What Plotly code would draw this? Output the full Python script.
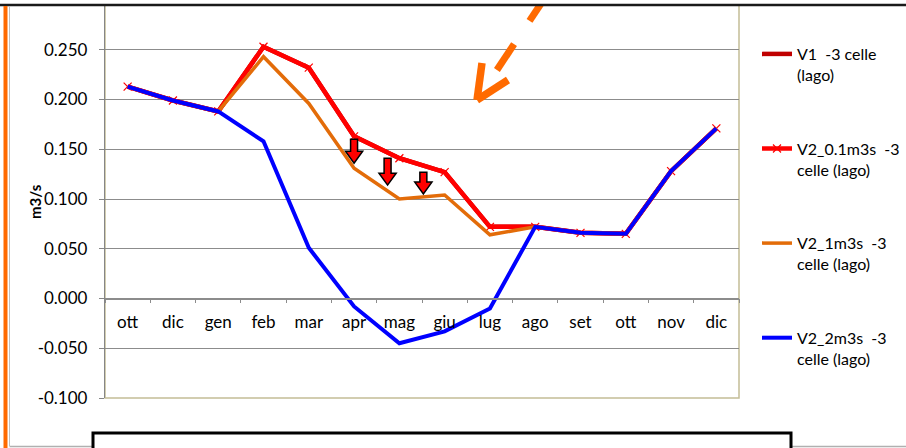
import plotly.graph_objects as go

# Months of the hydrological year (Oct -> Dec of the following year)
months = ["ott", "dic", "gen", "feb", "mar", "apr", "mag", "giu",
          "lug", "ago", "set", "ott", "nov", "dic"]

# Flow rates (m3/s) for each scenario
v1_3celle = [0.213, 0.199, 0.188, 0.253, 0.232, 0.163, 0.141, 0.127,
             0.072, 0.072, 0.066, 0.065, 0.128, 0.171]
v2_01_3celle = [0.213, 0.199, 0.188, 0.253, 0.232, 0.163, 0.141, 0.127,
                0.072, 0.072, 0.066, 0.065, 0.128, 0.171]
v2_1_3celle = [0.213, 0.199, 0.188, 0.243, 0.196, 0.131, 0.100, 0.104,
               0.064, 0.072, 0.066, 0.065, 0.128, 0.171]
v2_2_3celle = [0.213, 0.199, 0.188, 0.158, 0.051, -0.008, -0.045, -0.033,
               -0.010, 0.072, 0.066, 0.065, 0.128, 0.171]

# y-axis ticks and their labels (plain hyphen for negatives)
y_ticks = [-0.100, -0.050, 0.000, 0.050, 0.100, 0.150, 0.200, 0.250, 0.300]
y_tick_text = ["-0.100", "-0.050", "0.000", "0.050", "0.100", "0.150",
               "0.200", "0.250", "0.300"]

FONT = "Lato"
FS = 17
W, H = 906, 448
L, R, T, B = 105, 167, 0, 50
PW, PH = W - L - R, H - T - B


def px(x):
    """pixel column -> paper fraction"""
    return (x - L) / PW


def py(y):
    """pixel row -> paper fraction"""
    return (H - B - y) / PH


x = list(range(len(months)))

fig = go.Figure()
fig.add_trace(go.Scatter(x=x, y=v1_3celle, mode="lines", name="V1  -3 celle<br>(lago)",
                         line=dict(color="#C00000", width=4.5)))
fig.add_trace(go.Scatter(x=x, y=v2_01_3celle, mode="lines+markers",
                         name="V2_0.1m3s  -3<br>celle (lago)",
                         line=dict(color="#FF0000", width=4.5),
                         marker=dict(symbol="x-thin", size=8,
                                     line=dict(color="#FF0000", width=1.2))))
fig.add_trace(go.Scatter(x=x, y=v2_1_3celle, mode="lines", name="V2_1m3s  -3<br>celle (lago)",
                         line=dict(color="#E36C09", width=3.5)))
fig.add_trace(go.Scatter(x=x, y=v2_2_3celle, mode="lines", name="V2_2m3s  -3<br>celle (lago)",
                         line=dict(color="#0000FF", width=4)))

# each trace in its own group so the group gap spaces the entries
for i, tr in enumerate(fig.data):
    tr.legendgroup = f"g{i}"

shapes = []

# plot-area border
shapes.append(dict(type="rect", xref="paper", yref="paper", x0=0, x1=1, y0=0, y1=1,
                   line=dict(color="#C4BD97", width=1.5), layer="below"))

# red block arrows: (x category position, top value, tip value)
drops = [(5.00, 0.160, 0.136), (5.74, 0.141, 0.114), (6.53, 0.127, 0.105)]
sw, hw, hl = 0.077, 0.19, 0.012
for cx, top, tip in drops:
    neck = tip + hl
    path = (f"M {cx - sw},{top} L {cx + sw},{top} L {cx + sw},{neck} "
            f"L {cx + hw},{neck} L {cx},{tip} L {cx - hw},{neck} "
            f"L {cx - sw},{neck} Z")
    shapes.append(dict(type="path", xref="x", yref="y", path=path,
                       fillcolor="#FF0000", line=dict(color="black", width=1.5),
                       layer="above"))

# orange dashed pointer arrow
ORANGE = "#FF6A00"
tipx, tipy = 477, 100
dx, dy = 0.553, -0.833
for t0, t1 in [(36, 67), (95, 130)]:
    shapes.append(dict(type="line", xref="paper", yref="paper",
                       x0=px(tipx + dx * t0), y0=py(tipy + dy * t0),
                       x1=px(tipx + dx * t1), y1=py(tipy + dy * t1),
                       line=dict(color=ORANGE, width=7)))
for ax, ay in [(482, 63), (508, 80)]:
    shapes.append(dict(type="line", xref="paper", yref="paper",
                       x0=px(tipx), y0=py(tipy), x1=px(ax), y1=py(ay),
                       line=dict(color=ORANGE, width=7.5)))

# page frame elements
shapes.append(dict(type="rect", xref="paper", yref="paper",
                   x0=px(-5), x1=px(W + 5), y0=py(4), y1=py(-5),
                   fillcolor="white", line=dict(width=0)))
shapes.append(dict(type="line", xref="paper", yref="paper",
                   x0=px(0), x1=px(W), y0=py(5), y1=py(5),
                   line=dict(color="#1a1a1a", width=2.5)))
shapes.append(dict(type="line", xref="paper", yref="paper",
                   x0=px(5.5), x1=px(5.5), y0=py(6), y1=py(H + 2),
                   line=dict(color=ORANGE, width=4)))
shapes.append(dict(type="line", xref="paper", yref="paper",
                   x0=px(9.5), x1=px(9.5), y0=py(6), y1=py(446),
                   line=dict(color="#BFBFBF", width=1)))
shapes.append(dict(type="line", xref="paper", yref="paper",
                   x0=px(9.5), x1=px(W), y0=py(446.5), y1=py(446.5),
                   line=dict(color="#B0B0B0", width=1.5)))
shapes.append(dict(type="rect", xref="paper", yref="paper",
                   x0=px(93), x1=px(791), y0=py(433), y1=py(H + 10),
                   fillcolor="white", line=dict(color="black", width=3)))

fig.update_layout(
    width=W, height=H,
    margin=dict(l=L, r=R, t=T, b=B),
    paper_bgcolor="white", plot_bgcolor="white",
    font=dict(family=FONT, size=FS, color="black"),
    shapes=shapes,
    annotations=[dict(text="<b>m3/s</b>", xref="paper", yref="paper",
                      x=px(35), y=py(202), xanchor="center", yanchor="middle",
                      textangle=-90, showarrow=False,
                      font=dict(family=FONT, size=15, color="black"))],
    showlegend=True,
    legend=dict(x=px(757), xanchor="left", y=py(37), yanchor="top",
                valign="top", tracegroupgap=50, traceorder="grouped",
                font=dict(family=FONT, size=16, color="black"),
                bgcolor="rgba(0,0,0,0)", itemwidth=30),
    xaxis=dict(range=[-0.5, 13.5], tickmode="array", tickvals=x, ticktext=months,
               ticks="", showgrid=False, zeroline=False,
               anchor="free", position=0.25,
               showline=True, linecolor="#8C8C8C", linewidth=1.5,
               ticklabelstandoff=8,
               tickfont=dict(family=FONT, size=FS),
               minor=dict(tickmode="array",
                          tickvals=[i - 0.5 for i in range(len(months) + 1)],
                          ticks="outside", ticklen=4, tickcolor="#8C8C8C",
                          showgrid=False)),
    yaxis=dict(range=[-0.1, 0.3], tickmode="array", tickvals=y_ticks,
               ticktext=y_tick_text, showgrid=True, gridcolor="#8C8C8C",
               gridwidth=1.3, zeroline=False, showline=True,
               linecolor="#868686", linewidth=1.3,
               ticks="outside", ticklen=5, tickcolor="#868686",
               ticklabelstandoff=8, tickfont=dict(family=FONT, size=FS)),
)

fig.write_html("out.html")
